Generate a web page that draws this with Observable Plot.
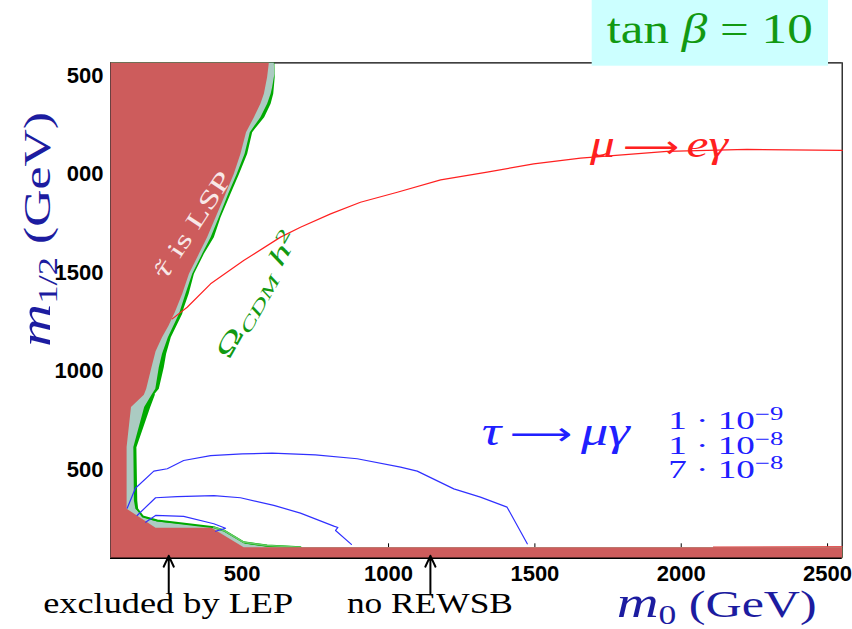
<!DOCTYPE html>
<html><head><meta charset="utf-8">
<script src="https://cdn.jsdelivr.net/npm/d3@7"></script>
<script src="https://cdn.jsdelivr.net/npm/@observablehq/plot@0.6"></script>
<style>
html,body{margin:0;padding:0;background:#fff;}
#chart{width:852px;height:629px;overflow:hidden;position:relative;}
[aria-label$="tick label"]{font-weight:bold;}
</style></head><body><div id="chart"></div>
<script>
// ---- data (m0, m1/2 in GeV) ----
const xTicks = [500, 1000, 1500, 2000, 2500];
const yTicks = [500, 1000, 1500, 2000, 2500];
const xDomain = [50, 2550];
const yDomain = [50, 2565];

// edge of the excluded (stau LSP / LEP / no REWSB) region
const excludedEdge = [[591,2565],[585,2492],[574,2408],[562,2357],[540,2289],[513,2213],[494,2103],[471,2001],[443,1900],[409,1781],[380,1680],[352,1595],[318,1494],[295,1392],[270,1300],[248,1230],[226,1172],[204,1100],[190,1020],[172,910],[164,880],[120,817],[105,614],[105,301],[204,204],[395,204],[505,106]];
// outer edge of the grey band
const stauBandEdge = [[608,2565],[610,2509],[602,2440],[597,2408],[585,2357],[562,2289],[526,2213],[508,2103],[481,2001],[452,1900],[420,1781],[392,1680],[363,1595],[329,1494],[306,1392],[284,1291],[246,1172],[226,1088],[215,1020],[203,910],[190,880],[165,817],[128,614],[130,343],[135,301],[175,250],[210,236],[403,207],[437,191],[511,123],[597,106]];
// outer edge of the Omega_CDM h^2 band
const omegaEdge = [[610,2565],[611,2492],[606,2408],[597,2357],[575,2289],[534,2213],[517,2103],[489,2001],[460,1900],[426,1781],[403,1680],[369,1595],[335,1494],[317,1392],[300,1320],[295,1291],[256,1172],[240,1088],[232,1020],[215,910],[198,880],[182,817],[135,614],[138,343],[141,301],[160,262],[210,241],[403,207],[437,191],[505,131],[585,114],[699,106]];
// tau -> mu gamma contours
const tauMuGamma1e9 = [[107,304],[135,405],[198,492],[244,504],[300,546],[392,571],[500,580],[602,583],[750,575],[893,555],[1041,512],[1098,492],[1223,402],[1314,360],[1405,309],[1474,123]];
const tauMuGamma1e8 = [[141,267],[204,357],[278,363],[403,368],[494,357],[608,318],[699,279],[813,213],[827,206],[819,191],[873,120]];
const tauMuGamma7e8 = [[170,233],[204,267],[300,262],[403,225],[443,202],[409,187]];
// mu -> e gamma contour
const muEGamma = [[261,1265],[312,1324],[392,1443],[505,1561],[631,1680],[699,1730],[802,1798],[904,1857],[1030,1908],[1178,1971],[1337,2010],[1496,2052],[1656,2081],[1952,2115],[2225,2125],[2550,2120]];
const rewsbEdge = [[2110,107],[2550,109]];
// arrows below the axis
const arrowM0 = [249, 1143];
const arrowLabels = ["excluded by LEP", "no REWSB"];
const legendValues = [["1 · 10", "−9"], ["1 · 10", "−8"], ["7 · 10", "−8"]];

function region(edge) {
  const last = edge[edge.length - 1];
  return [[xDomain[0], yDomain[1]], ...edge, [xDomain[1], last[1]], [xDomain[1], yDomain[0]], [xDomain[0], yDomain[0]]];
}
const X = d => d[0], Y = d => d[1];
const arrows = arrowM0.map((m, i) => ({m0: m, label: arrowLabels[i]}));

const plot = Plot.plot({
  width: 852, height: 629,
  marginLeft: 110, marginRight: 10.3, marginTop: 62.3, marginBottom: 71.3,
  x: {domain: xDomain},
  y: {domain: yDomain},
  style: {fontFamily: "'Liberation Sans', Arial, sans-serif", background: "white", overflow: "visible"},
  marks: [
    Plot.ruleY([yDomain[1]], {stroke: "black", strokeWidth: 1.2}),
    Plot.ruleX([xDomain[1]], {stroke: "black", strokeWidth: 1.2}),
    Plot.ruleX(xTicks, {y1: 50, y2: 123, stroke: "black", strokeWidth: 1}),
    Plot.line(region(omegaEdge), {x: X, y: Y, fill: "#00aa00", stroke: "none", curve: "linear-closed"}),
    Plot.line(region(stauBandEdge), {x: X, y: Y, fill: "#abcbc2", stroke: "none", curve: "linear-closed"}),
    Plot.line(omegaEdge.slice(20), {x: X, y: Y, stroke: "#00aa00", strokeWidth: 2}),
    Plot.line(omegaEdge.slice(27), {x: X, y: Y, stroke: "#66cc66", strokeWidth: 1.5}),
    Plot.line(region(excludedEdge), {x: X, y: Y, fill: "#cd5c5c", stroke: "none", curve: "linear-closed"}),
    Plot.line(rewsbEdge, {x: X, y: Y, stroke: "#e04a4a", strokeWidth: 1}),
    Plot.line(tauMuGamma1e9, {x: X, y: Y, stroke: "#3030ff", strokeWidth: 1.2}),
    Plot.line(tauMuGamma1e8, {x: X, y: Y, stroke: "#3030ff", strokeWidth: 1.2}),
    Plot.line(tauMuGamma7e8, {x: X, y: Y, stroke: "#3030ff", strokeWidth: 1.2}),
    Plot.line(muEGamma, {x: X, y: Y, stroke: "#ff2020", strokeWidth: 1.2}),
    Plot.ruleY([yDomain[0]], {stroke: "black", strokeWidth: 1.5}),
    Plot.ruleX([xDomain[0]], {stroke: "#6a4040", strokeWidth: 1}),
    Plot.axisX(xTicks, {tickSize: 0, tickPadding: 7, fontSize: 22, fontWeight: "bold", label: null, tickFormat: "d"}),
    Plot.axisY(yTicks, {tickSize: 0, tickPadding: 7, fontSize: 22, fontWeight: "bold", label: null, tickFormat: "d"}),
    Plot.arrow(arrows, {x1: "m0", x2: "m0", y1: -129, y2: 62, stroke: "black", strokeWidth: 2, headLength: 9, headAngle: 50})
  ]
});
document.getElementById("chart").appendChild(plot);

const svg = d3.select(plot);
const sx = plot.scale("x");
const SERIF = "'Liberation Serif', 'DejaVu Serif', serif";

function addText(parent, x, y, parts, o = {}) {
  const t = parent.append("text").attr("x", x).attr("y", y)
    .attr("font-family", SERIF).attr("font-size", o.size || 30)
    .attr("fill", o.fill || "black").attr("text-anchor", o.anchor || "start");
  if (o.length) t.attr("textLength", o.length).attr("lengthAdjust", "spacingAndGlyphs");
  if (o.transform) t.attr("transform", o.transform);
  for (const p of parts) {
    const s = t.append("tspan").text(p.t);
    if (p.italic) s.attr("font-style", "italic");
    if (p.size) s.attr("font-size", p.size);
    if (p.shift) s.attr("dy", p.shift);
    if (p.family) s.attr("font-family", p.family);
  }
  return t;
}

// whiteout behind the y-axis title (as in the original)
svg.append("rect").attr("x", 0).attr("y", 60).attr("width", 67).attr("height", 130).attr("fill", "white");

// axis titles
const navy = "#1c1ca0";
addText(svg, 616.7, 617, [
  {t: "m", italic: true, size: 44},
  {t: "0", size: 27, shift: 7},
  {t: " (GeV)", size: 38, shift: -7}
], {fill: navy, size: 38, length: 200});
addText(svg, 0, 0, [
  {t: "m", italic: true, size: 44},
  {t: "1/2", size: 27, shift: 7},
  {t: " (GeV)", size: 38, shift: -7}
], {fill: navy, size: 38, length: 235, transform: "translate(50,347) rotate(-90)"});

// tan beta box
svg.append("rect").attr("x", 591.7).attr("y", 0).attr("width", 236.3).attr("height", 65.7).attr("fill", "#ccffff");
addText(svg, 606.7, 43.3, [
  {t: "tan "}, {t: "β", italic: true}, {t: " = 10"}
], {fill: "#129912", size: 42, length: 206});

// mu -> e gamma label
addText(svg, 590, 156.7, [
  {t: "μ", italic: true}, {t: "\u2009⟶\u2009", family: "'DejaVu Sans', sans-serif", size: 30}, {t: "eγ", italic: true}
], {fill: "#ff2020", size: 38, length: 138});

// tau -> mu gamma label
addText(svg, 481.7, 445, [
  {t: "τ", italic: true}, {t: "\u2009⟶\u2009", family: "'DejaVu Sans', sans-serif", size: 32}, {t: "μγ", italic: true}
], {fill: "#2020ff", size: 40, length: 148});

// branching-ratio values
legendValues.forEach((v, i) => {
  addText(svg, 668.3, 429 + i * 24.5, [
    {t: v[0]}, {t: v[1], size: 18, shift: -9}
  ], {fill: "#2020ff", size: 25, length: 115});
});

// stau LSP label
addText(svg, 0, 0, [
  {t: "τ\u0303", italic: true, family: "'DejaVu Serif', serif", size: 22}, {t: " is LSP"}
], {fill: "#f8e8e8", size: 25, anchor: "middle", length: 124, transform: "translate(199,230) rotate(-56.7)"});

// Omega label
addText(svg, 0, 0, [
  {t: "Ω"}, {t: "CDM", italic: true, size: 17, shift: 5}, {t: " h", italic: true, size: 25, shift: -5}, {t: "2", size: 17, shift: -9}
], {fill: "#129912", size: 25, anchor: "middle", length: 142, transform: "translate(264,298.5) rotate(-60.4)"});

// arrow labels
arrows.forEach(a => {
  addText(svg, sx.apply(a.m0), 613.3, [{t: a.label}], {size: 29, anchor: "middle", length: a.label.length > 10 ? 250 : 166});
});
</script></body></html>
